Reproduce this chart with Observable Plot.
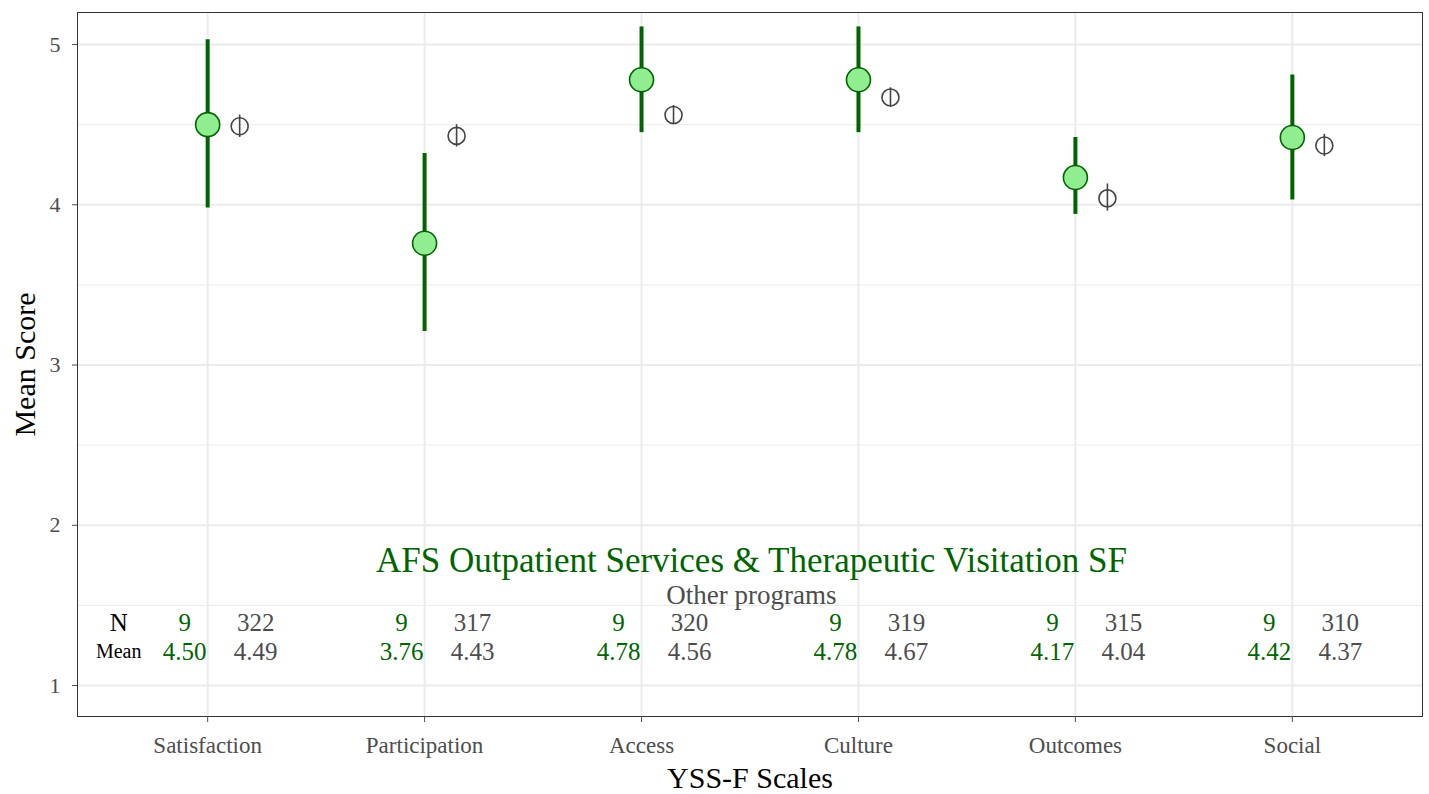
<!DOCTYPE html>
<html>
<head>
<meta charset="utf-8">
<script src="https://cdn.jsdelivr.net/npm/d3@7"></script>
<script src="https://cdn.jsdelivr.net/npm/@observablehq/plot@0.6"></script>
<style>
  html, body { margin: 0; padding: 0; background: #fff; }
</style>
</head>
<body>
<div id="chart"></div>
<script>
const scales = ["Satisfaction", "Participation", "Access", "Culture", "Outcomes", "Social"];
const programMean = [4.50, 3.76, 4.78, 4.78, 4.17, 4.42];
const programLow  = [3.98, 3.21, 4.45, 4.45, 3.94, 4.03];
const programHigh = [5.03, 4.32, 5.11, 5.11, 4.42, 4.81];
const programN    = [9, 9, 9, 9, 9, 9];
const otherMean = [4.49, 4.43, 4.56, 4.67, 4.04, 4.37];
const otherLow  = [4.42, 4.36, 4.50, 4.61, 3.96, 4.30];
const otherHigh = [4.56, 4.50, 4.62, 4.73, 4.13, 4.44];
const otherN    = [322, 317, 320, 319, 315, 310];
const yTicks = [1, 2, 3, 4, 5];
const yMinor = [1.5, 2.5, 3.5, 4.5];
const programName = "AFS Outpatient Services & Therapeutic Visitation SF";
const otherName = "Other programs";

const program = scales.map((s, i) => ({scale: s, mean: programMean[i], lo: programLow[i], hi: programHigh[i], n: programN[i]}));
const other = scales.map((s, i) => ({scale: s, mean: otherMean[i], lo: otherLow[i], hi: otherHigh[i], n: otherN[i]}));

const GREEN = "#006400";
const LIGHT = "#90EE90";
const GREY = "#4d4d4d";
const FONT = "'Liberation Serif', 'DejaVu Serif', serif";
const rowN = 1.39, rowMean = 1.212;

const chart = Plot.plot({
  width: 1429,
  height: 794,
  marginLeft: 77,
  marginRight: 7,
  marginTop: 12,
  marginBottom: 78,
  style: {fontFamily: FONT, background: "#fff", overflow: "visible"},
  x: {type: "point", domain: scales, padding: 0.6, round: false},
  y: {domain: [0.8066, 5.2]},
  marks: [
    Plot.gridY(yMinor, {stroke: "#ebebeb", strokeOpacity: 1, strokeWidth: 1}),
    Plot.gridY(yTicks, {stroke: "#ebebeb", strokeOpacity: 1, strokeWidth: 2}),
    Plot.gridX(scales, {stroke: "#ebebeb", strokeOpacity: 1, strokeWidth: 2}),
    Plot.frame({stroke: "#333", strokeWidth: 1}),
    Plot.axisY({ticks: yTicks, tickSize: 5, tickPadding: 12, fontSize: 22, color: GREY, label: null, tickFormat: d3.format("d")}),
    Plot.axisX({tickSize: 6, tickPadding: 14, fontSize: 23, color: GREY, label: null}),
    Plot.text(["Mean Score"], {frameAnchor: "left", textAnchor: "middle", lineAnchor: "middle", dx: -52, rotate: -90, fontSize: 30, fill: "#000"}),
    Plot.text(["YSS-F Scales"], {frameAnchor: "bottom", textAnchor: "middle", lineAnchor: "middle", dy: 62, fontSize: 30, fill: "#000"}),
    // program error bars and points
    Plot.ruleX(program, {x: "scale", y1: "lo", y2: "hi", stroke: GREEN, strokeWidth: 4}),
    Plot.dot(program, {x: "scale", y: "mean", r: 12, fill: LIGHT, stroke: GREEN, strokeWidth: 1.6}),
    // other programs
    Plot.ruleX(other, {x: "scale", y1: "lo", y2: "hi", dx: 32, stroke: "#444", strokeWidth: 1.6}),
    Plot.dot(other, {x: "scale", y: "mean", dx: 32, r: 8.5, fill: "none", stroke: "#444", strokeWidth: 1.6}),
    // legend-like labels
    Plot.text([programName], {x: () => "Culture", dx: -107, y: () => 1.78, fontSize: 35, fill: GREEN}),
    Plot.text([otherName], {x: () => "Culture", dx: -107, y: () => 1.56, fontSize: 27, fill: GREY}),
    // table
    Plot.text(["N"], {x: () => "Satisfaction", dx: -89, y: () => rowN, fontSize: 25, fill: "#000"}),
    Plot.text(["Mean"], {x: () => "Satisfaction", dx: -89, y: () => rowMean, fontSize: 20, fill: "#000"}),
    Plot.text(program, {x: "scale", y: () => rowN, text: d => String(d.n), dx: -23, fontSize: 25, fill: GREEN}),
    Plot.text(program, {x: "scale", y: () => rowMean, text: d => d.mean.toFixed(2), dx: -23, fontSize: 25, fill: GREEN}),
    Plot.text(other, {x: "scale", y: () => rowN, text: d => String(d.n), dx: 48, fontSize: 25, fill: GREY}),
    Plot.text(other, {x: "scale", y: () => rowMean, text: d => d.mean.toFixed(2), dx: 48, fontSize: 25, fill: GREY})
  ]
});
document.getElementById("chart").appendChild(chart);
</script>
</body>
</html>
